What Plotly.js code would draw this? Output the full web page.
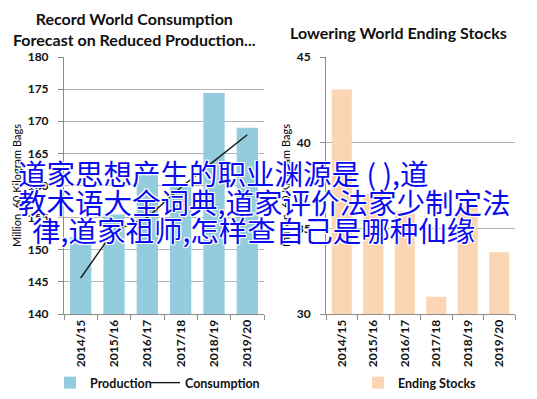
<!DOCTYPE html>
<html>
<head>
<meta charset="utf-8">
<script src="https://cdn.plot.ly/plotly-3.0.1.min.js"></script>
<style>html,body{margin:0;padding:0;background:#fff;}#chart{width:537px;height:399px;}</style>
</head>
<body>
<div id="chart"></div>
<script>
var seasons = ['2014/15', '2015/16', '2016/17', '2017/18', '2018/19', '2019/20'];
var production = [152.0, 155.5, 161.6, 159.8, 174.4, 169.0];
var consumption = [145.6, 153.0, 155.0, 159.7, 163.8, 167.9];
var endingStocks = [43.1, 37.0, 36.0, 31.0, 36.3, 33.6];
var leftTitle = 'Record World Consumption<br>Forecast on Reduced Production...';
var rightTitle = 'Lowering World Ending Stocks';
var yTitle = 'Million  60 Kilogram Bags';
var overlayLines = ['道家思想产生的职业渊源是 ( ),道', '教术语大全词典,道家评价法家少制定法', '律,道家祖师,怎样查自己是哪种仙缘'];

var FONT = 'Lato, "Open Sans", sans-serif';
var TXT = '#111111';
var GRID = '#b3b3b3';
var AX = '#8c8c8c';

var traces = [
  {type: 'bar', x: seasons, y: production, name: 'Production', xaxis: 'x', yaxis: 'y',
   marker: {color: '#93cddd', line: {width: 0}}, legend: 'legend'},
  {type: 'scatter', mode: 'lines', x: seasons, y: consumption, name: 'Consumption', xaxis: 'x', yaxis: 'y',
   line: {color: '#1a1a1a', width: 1.4}, legend: 'legend3'},
  {type: 'bar', x: seasons, y: endingStocks, name: 'Ending Stocks', xaxis: 'x2', yaxis: 'y2',
   marker: {color: '#fcd5b5', line: {width: 0}}, legend: 'legend2'}
];

function xax(dom, anchor) {
  return {domain: dom, anchor: anchor, type: 'category', showline: true, linecolor: AX, linewidth: 1,
    ticks: 'outside', tickson: 'boundaries', ticklen: 5, tickcolor: AX, tickangle: -90,
    tickfont: {family: FONT, size: 12, color: TXT, weight: 'bold'}, showgrid: false, fixedrange: true};
}
function yax(dom, anchor, range) {
  return {domain: dom, anchor: anchor, range: range, dtick: 5, showline: true, linecolor: AX, linewidth: 1,
    ticks: 'outside', ticklen: 5, tickcolor: AX, gridcolor: GRID, gridwidth: 1, zeroline: false,
    tickfont: {family: FONT, size: 12, color: TXT, weight: 'bold'}, ticklabelstandoff: 7,
    title: {text: yTitle, font: {family: FONT, size: 11, color: '#000'}, standoff: 3}, fixedrange: true};
}

var yDom = [1 - 314/399, 1 - 57/399];
var shadow = '1px 1px 0 #fff, -1px -1px 0 #fff, 1px -1px 0 #fff, -1px 1px 0 #fff, 0 1px 0 #fff, 0 -1px 0 #fff, 1px 0 0 #fff, -1px 0 0 #fff';
var cjk = {family: '"Noto Sans CJK SC", sans-serif', size: 28.5, color: '#0b0bef', shadow: shadow};

var legFont = {family: FONT, size: 12.5, color: TXT, weight: 'bold'};
function leg(px) {
  return {orientation: 'h', x: px/537, y: 1 - 383/399, xanchor: 'left', yanchor: 'middle',
    font: legFont, itemwidth: 30, bgcolor: 'rgba(0,0,0,0)'};
}
var layout = {
  width: 537, height: 399,
  margin: {l: 0, r: 0, t: 0, b: 0},
  paper_bgcolor: '#fff', plot_bgcolor: '#fff',
  bargap: 0.36,
  xaxis: xax([64/537, 264/537], 'y'),
  yaxis: yax(yDom, 'x', [140, 180]),
  xaxis2: xax([326/537, 515/537], 'y2'),
  yaxis2: yax(yDom, 'x2', [30, 45]),
  legend: leg(50),
  legend3: leg(145),
  legend2: leg(358),
  annotations: [
    {text: leftTitle, xref: 'paper', yref: 'paper', x: 134/537, y: 1 - 29/399, xanchor: 'center', yanchor: 'middle',
     showarrow: false, font: {family: FONT, size: 16, color: TXT, weight: 'bold'}},
    {text: rightTitle, xref: 'paper', yref: 'paper', x: 398/537, y: 1 - 32/399, xanchor: 'center', yanchor: 'middle',
     showarrow: false, font: {family: FONT, size: 16, color: TXT, weight: 'bold'}},
    {text: overlayLines[0], xref: 'paper', yref: 'paper', x: 16/537, y: 1 - 173/399, xanchor: 'left', yanchor: 'middle', showarrow: false, font: cjk},
    {text: overlayLines[1], xref: 'paper', yref: 'paper', x: 16/537, y: 1 - 201/399, xanchor: 'left', yanchor: 'middle', showarrow: false, font: cjk},
    {text: overlayLines[2], xref: 'paper', yref: 'paper', x: 30/537, y: 1 - 229/399, xanchor: 'left', yanchor: 'middle', showarrow: false, font: cjk}
  ],
  showlegend: true
};

Plotly.newPlot('chart', traces, layout, {displayModeBar: false, staticPlot: true});
</script>
</body>
</html>
